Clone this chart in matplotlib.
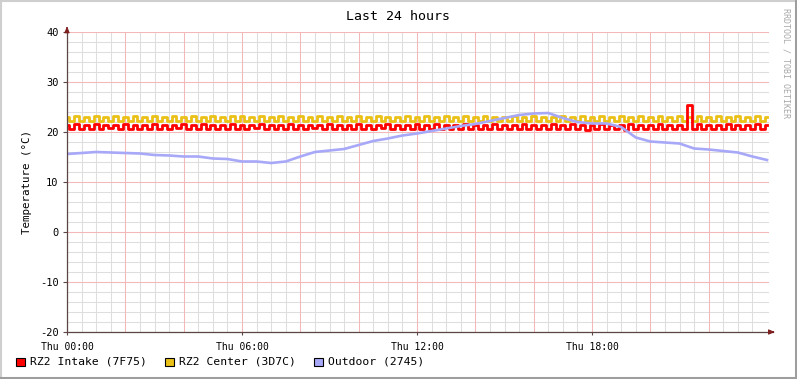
import numpy as np
import matplotlib
matplotlib.use("Agg")
import matplotlib.pyplot as plt
from matplotlib.patches import Rectangle
from matplotlib.lines import Line2D

# ---- data (hours since Thu 00:00) ----
intake_step_h = 10 / 60.0
intake = [
    21.5, 20.7, 21.6, 20.6, 21.4, 20.7, 21.6, 20.6, 21.5, 20.8, 21.4, 20.6,
    21.6, 20.7, 21.5, 20.7, 21.4, 20.6, 21.7, 20.7, 21.5, 20.6, 21.4, 20.8,
    21.6, 20.7, 21.5, 20.6, 21.6, 20.7, 21.4, 20.7, 21.5, 20.6, 21.6, 20.7,
    21.5, 20.6, 21.4, 20.8, 21.6, 20.7, 21.5, 20.6, 21.4, 20.7, 21.6, 20.7,
    21.5, 20.6, 21.5, 20.8, 21.4, 20.7, 21.6, 20.6, 21.5, 20.7, 21.4, 20.7,
    21.6, 20.6, 21.5, 20.7, 21.4, 20.8, 21.6, 20.7, 21.5, 20.6, 21.4, 20.7,
    21.6, 20.7, 21.5, 20.6, 21.7, 20.7, 21.4, 20.7, 21.5, 20.6, 21.6, 20.7,
    21.4, 20.7, 21.5, 20.6, 21.6, 20.7, 21.5, 20.6, 21.4, 20.7, 21.6, 20.7,
    21.5, 20.6, 21.4, 20.7, 21.6, 20.7, 21.5, 20.6, 21.6, 20.7, 21.4, 20.5,
    21.5, 20.7, 21.6, 20.6, 21.4, 20.7, 21.5, 20.4, 21.6, 20.7, 21.5, 20.6,
    21.4, 20.7, 21.6, 20.7, 21.5, 20.6, 21.4, 20.7, 25.5, 20.7, 21.6, 20.6,
    21.5, 20.7, 21.4, 20.6, 21.6, 20.7, 21.5, 20.6, 21.4, 20.7, 21.6, 20.7,
    21.5,
]
center = [
    23.1, 22.2, 23.2, 22.3, 23.0, 22.2, 23.2, 22.2, 23.1, 22.3, 23.2, 22.2,
    23.0, 22.3, 23.3, 22.2, 23.1, 22.2, 23.2, 22.3, 23.0, 22.2, 23.3, 22.2,
    23.1, 22.3, 23.2, 22.2, 23.0, 22.2, 23.2, 22.3, 23.1, 22.2, 23.2, 22.2,
    23.3, 22.2, 23.1, 22.3, 23.2, 22.2, 23.0, 22.2, 23.3, 22.3, 23.1, 22.2,
    23.2, 22.2, 23.0, 22.3, 23.2, 22.2, 23.1, 22.2, 23.3, 22.3, 23.1, 22.2,
    23.2, 22.2, 23.0, 22.3, 23.2, 22.2, 23.1, 22.2, 23.0, 22.3, 23.2, 22.2,
    23.1, 22.2, 23.3, 22.3, 23.0, 22.2, 23.2, 22.2, 23.1, 22.3, 23.2, 22.2,
    23.0, 22.2, 23.2, 22.3, 23.1, 22.2, 23.0, 22.2, 23.2, 22.3, 23.1, 22.2,
    23.2, 22.2, 23.0, 22.3, 23.1, 22.2, 23.2, 22.2, 23.0, 22.3, 23.2, 22.2,
    23.1, 22.2, 23.2, 22.3, 23.0, 22.2, 23.2, 22.2, 23.1, 22.3, 23.2, 22.2,
    23.0, 22.2, 23.2, 22.3, 23.1, 22.2, 23.2, 22.2, 23.0, 22.3, 23.2, 22.2,
    23.1, 22.2, 23.2, 22.3, 23.0, 22.2, 23.2, 22.2, 23.1, 22.3, 23.2, 22.2,
    23.0,
]
outdoor_step_h = 0.5
outdoor = [
    15.6, 15.8, 16.0, 15.9, 15.8, 15.7, 15.4, 15.3, 15.1, 15.1,
    14.7, 14.6, 14.1, 14.1, 13.8, 14.1, 15.1, 16.0, 16.3, 16.6,
    17.4, 18.2, 18.7, 19.3, 19.7, 20.2, 20.7, 21.2, 21.6, 22.2,
    22.8, 23.4, 23.7, 23.8, 22.8, 22.0, 21.7, 21.7, 21.0, 18.9,
    18.1, 17.9, 17.7, 16.7, 16.5, 16.2, 15.9, 15.1, 14.4,
]
series_names = ["RZ2 Intake (7F75)", "RZ2 Center (3D7C)", "Outdoor (2745)"]
series_colors = ["#FF0000", "#EAC117", "#A8A8F8"]
x_tick_hours = [0, 6, 12, 18]
x_tick_labels = ["Thu 00:00", "Thu 06:00", "Thu 12:00", "Thu 18:00"]
y_ticks = [-20, -10, 0, 10, 20, 30, 40]

W, H = 797, 379
fig = plt.figure(figsize=(W / 100, H / 100), dpi=100)
fig.patch.set_facecolor("white")
mono = "DejaVu Sans Mono"

# plot area: x 67..769 px, y 32..332 px
ax_l, ax_r, ax_t, ax_b = 67, 769, 32, 332
ax = fig.add_axes([ax_l / W, (H - ax_b) / H, (ax_r - ax_l) / W, (ax_b - ax_t) / H])
ax.set_facecolor("white")
xmax = 24 + 2 / (700 / 24)
ax.set_xlim(0, xmax)
ax.set_ylim(-20, 40)
for s in ax.spines.values():
    s.set_visible(False)

# grid
minor_x = np.arange(0, 24, 0.5)
major_x = np.arange(0, 24, 2)
minor_y = np.arange(-20, 41, 2)
major_y = np.arange(-20, 41, 10)
ax.vlines([v for v in minor_x if v % 2 != 0], -20, 40, colors="#DEDEDE", lw=0.75, zorder=0)
ax.hlines([v for v in minor_y if v % 10 != 0], 0, xmax, colors="#DEDEDE", lw=0.75, zorder=0)
ax.vlines(major_x, -20, 40, colors="#F4B8B8", lw=0.75, zorder=0.5)
ax.hlines(major_y, 0, xmax, colors="#F4B8B8", lw=0.75, zorder=0.5)

# data
t_int = np.arange(len(intake)) * intake_step_h
t_cen = np.arange(len(center)) * intake_step_h
t_out = np.arange(len(outdoor)) * outdoor_step_h
ax.plot(t_int, intake, color=series_colors[0], lw=2.0, drawstyle="steps-mid", zorder=3)
ax.plot(t_cen, center, color=series_colors[1], lw=2.0, drawstyle="steps-mid", zorder=2.9)
ax.plot(t_out, outdoor, color=series_colors[2], lw=1.9, zorder=3.2)

# ticks
ax.set_xticks(x_tick_hours)
ax.set_xticklabels(x_tick_labels, fontfamily=mono, fontsize=7)
ax.set_yticks(y_ticks)
ax.set_yticklabels([str(v) for v in y_ticks], fontfamily=mono, fontsize=7.5)
ax.tick_params(axis="y", length=3, width=0.8, color="#5C4545", pad=3)
ax.tick_params(axis="x", length=2, width=0.8, color="#5C4545", pad=5)
ax.set_ylabel("Temperature (°C)", fontfamily=mono, fontsize=7.8, labelpad=6)

# axes with arrows
axis_col = "#5C4545"
arrow_col = "#7F1F1F"
ax.add_line(Line2D([0, 0], [-20, 40.6], color=axis_col, lw=0.9, clip_on=False, zorder=4))
ax.add_line(Line2D([0, xmax + 0.13], [-20, -20], color=axis_col, lw=0.9, clip_on=False, zorder=4))
ax.annotate("", xy=(0, 41.1), xytext=(0, 40.2), xycoords="data",
            arrowprops=dict(arrowstyle="-|>,head_length=0.35,head_width=0.15", color=arrow_col, lw=0.8),
            annotation_clip=False, zorder=5)
ax.annotate("", xy=(xmax + 0.2, -20), xytext=(xmax + 0.02, -20), xycoords="data",
            arrowprops=dict(arrowstyle="-|>,head_length=0.35,head_width=0.15", color=arrow_col, lw=0.8),
            annotation_clip=False, zorder=5)

# title and watermark
fig.text(398 / W, 1 - 16 / H, "Last 24 hours", ha="center", va="center",
         fontfamily=mono, fontsize=9.5)
fig.text(786 / W, 1 - 8 / H, "RRDTOOL / TOBI OETIKER", ha="center", va="top",
         rotation=270, fontfamily=mono, fontsize=6, color="#A8A8A8")

# legend
leg_x = [16, 165, 314]
for lx, name, col in zip(leg_x, series_names, series_colors):
    fig.patches.append(Rectangle((lx / W, 1 - 366 / H), 9 / W, 8.5 / H,
                                 transform=fig.transFigure, facecolor=col,
                                 edgecolor="black", lw=0.8))
    fig.text((lx + 14) / W, 1 - 361.5 / H, name, ha="left", va="center",
             fontfamily=mono, fontsize=8.2)

# 3D-ish frame
fig.add_artist(Line2D([0, 1], [1 - 1 / H, 1 - 1 / H], transform=fig.transFigure, color="#CFCFCF", lw=1.5))
fig.add_artist(Line2D([1 / W, 1 / W], [0, 1], transform=fig.transFigure, color="#CFCFCF", lw=1.5))
fig.add_artist(Line2D([0, 1], [1.5 / H, 1.5 / H], transform=fig.transFigure, color="#9E9E9E", lw=2.2))
fig.add_artist(Line2D([1 - 1.5 / W, 1 - 1.5 / W], [0, 1], transform=fig.transFigure, color="#9E9E9E", lw=2.2))

fig.savefig("out.png", dpi=100, facecolor="white")
